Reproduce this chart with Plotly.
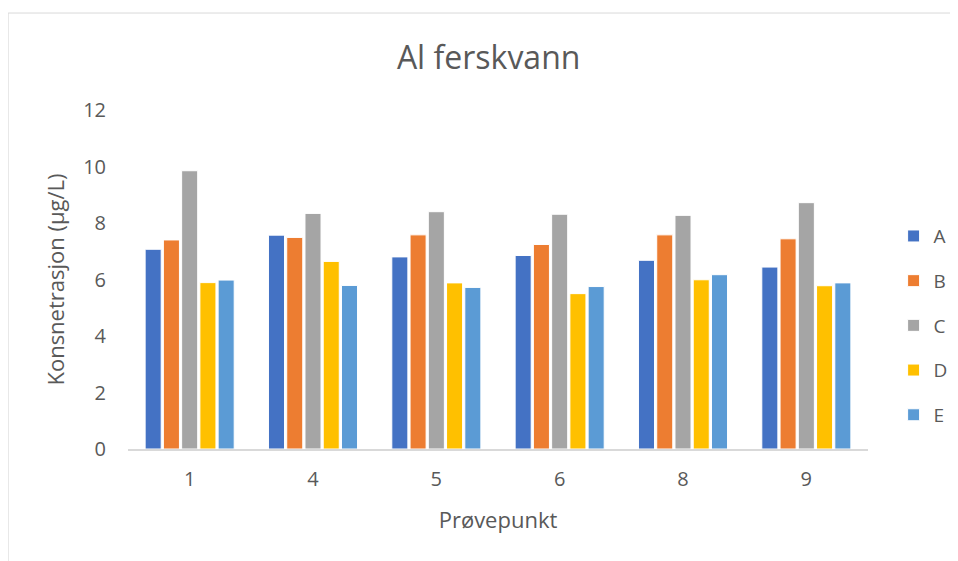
import plotly.graph_objects as go

categories = ["1", "4", "5", "6", "8", "9"]
series_names = ["A", "B", "C", "D", "E"]
A = [7.07, 7.57, 6.80, 6.85, 6.68, 6.44]
B = [7.40, 7.49, 7.58, 7.24, 7.58, 7.44]
C = [9.85, 8.34, 8.40, 8.31, 8.27, 8.72]
D = [5.89, 6.64, 5.88, 5.50, 5.99, 5.78]
E = [5.98, 5.79, 5.72, 5.75, 6.17, 5.88]
colors = ["#4472C4", "#ED7D31", "#A5A5A5", "#FFC000", "#5B9BD5"]

FONT = "'Open Sans', sans-serif"
GREY = "#595959"
fig = go.Figure()
for name, vals, col in zip(series_names, [A, B, C, D, E], colors):
    fig.add_trace(go.Bar(x=categories, y=vals, name=name, legendgroup=name,
                         marker=dict(color=col, line=dict(color="white", width=1))))

fig.update_layout(
    width=970, height=553,
    paper_bgcolor="white", plot_bgcolor="white",
    barmode="group", bargap=0.26, bargroupgap=0.12,
    margin=dict(l=120, r=110, t=102, b=112),
    title=dict(text="Al ferskvann", x=0.4955, xanchor="center", y=0.91, yanchor="middle",
               font=dict(family=FONT, size=32, color=GREY)),
    font=dict(family=FONT, color=GREY),
    legend=dict(x=1.0346, y=0.364, xanchor="left", yanchor="middle",
                font=dict(size=19, color=GREY), itemwidth=30,
                tracegroupgap=17, traceorder="grouped"),
    xaxis=dict(showline=True, linecolor="#D9D9D9", linewidth=2, ticks="",
               tickfont=dict(size=20, color=GREY), ticklabelstandoff=11,
               title=dict(text="Prøvepunkt", font=dict(size=22, color=GREY), standoff=22)),
    yaxis=dict(range=[0, 12], dtick=2, showgrid=False, zeroline=False, showline=False,
               tickfont=dict(size=20, color=GREY), ticklabelstandoff=21,
               title=dict(text="Konsnetrasjon (µg/L)", font=dict(size=22, color=GREY), standoff=12)),
    shapes=[
        dict(type="line", xref="paper", yref="paper", x0=-0.162, x1=1.2, y0=1.286, y1=1.286,
             line=dict(color="#D9D9D9", width=1)),
        dict(type="line", xref="paper", yref="paper", x0=-0.162, x1=-0.162, y0=-0.4, y1=1.286,
             line=dict(color="#D9D9D9", width=1)),
    ],
)
fig.write_html("out.html")
